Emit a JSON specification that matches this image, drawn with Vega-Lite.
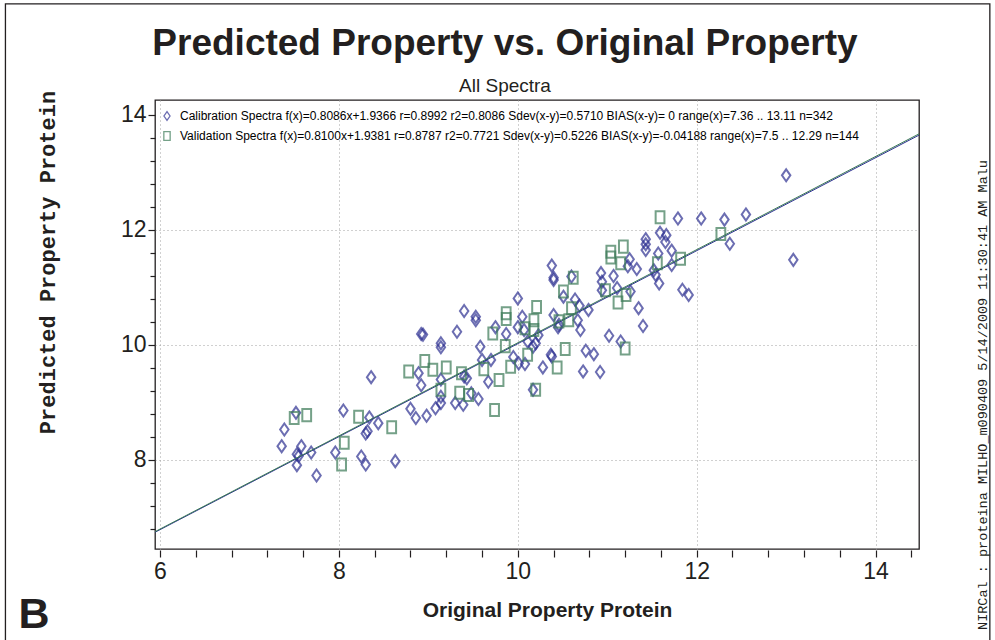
{
  "$schema": "https://vega.github.io/schema/vega-lite/v6.json",
  "width": 764,
  "height": 449,
  "autosize": {"type": "none"},
  "padding": {"left": 155, "top": 100, "right": 76, "bottom": 91},
  "background": "white",
  "title": {
    "text": "Predicted Property vs. Original Property",
    "subtitle": "All Spectra",
    "font": "Liberation Sans, Arial",
    "fontWeight": "bold",
    "fontSize": 37,
    "color": "#231f20",
    "subtitleFont": "Liberation Sans, Arial",
    "subtitleFontSize": 19,
    "subtitleColor": "#231f20",
    "subtitlePadding": 14,
    "offset": 8,
    "dx": -32,
    "dy": 102,
    "frame": "group",
    "anchor": "middle"
  },
  "config": {
    "view": {"stroke": "#231f20", "strokeWidth": 1.3},
    "axis": {
      "domain": false,
      "tickColor": "#231f20",
      "tickWidth": 1.2,
      "labelColor": "#231f20",
      "labelFont": "Liberation Sans, Arial",
      "labelFontSize": 23,
      "labelOverlap": false,
      "labelFlush": false,
      "gridColor": "#a0a0a0",
      "gridDash": [1, 3],
      "gridWidth": 1,
      "titleColor": "#231f20"
    }
  },
  "resolve": {"axis": {"x": "independent", "y": "independent"}},
  "datasets": {
    "points": [
      {"series": "Calibration", "original": 7.52, "predicted": 8.82},
      {"series": "Calibration", "original": 7.39, "predicted": 8.53},
      {"series": "Calibration", "original": 7.36, "predicted": 8.24},
      {"series": "Calibration", "original": 7.58, "predicted": 8.24},
      {"series": "Calibration", "original": 7.53, "predicted": 8.10},
      {"series": "Calibration", "original": 7.55, "predicted": 8.07},
      {"series": "Calibration", "original": 7.69, "predicted": 8.13},
      {"series": "Calibration", "original": 7.53, "predicted": 7.91},
      {"series": "Calibration", "original": 7.75, "predicted": 7.73},
      {"series": "Calibration", "original": 8.05, "predicted": 8.86},
      {"series": "Calibration", "original": 7.96, "predicted": 8.13},
      {"series": "Calibration", "original": 8.36, "predicted": 9.44},
      {"series": "Calibration", "original": 8.34, "predicted": 8.74},
      {"series": "Calibration", "original": 8.44, "predicted": 8.64},
      {"series": "Calibration", "original": 8.30, "predicted": 8.46},
      {"series": "Calibration", "original": 8.32, "predicted": 8.50},
      {"series": "Calibration", "original": 8.25, "predicted": 8.06},
      {"series": "Calibration", "original": 8.30, "predicted": 7.92},
      {"series": "Calibration", "original": 8.63, "predicted": 7.98},
      {"series": "Calibration", "original": 8.80, "predicted": 8.89},
      {"series": "Calibration", "original": 8.86, "predicted": 8.73},
      {"series": "Calibration", "original": 8.89, "predicted": 9.51},
      {"series": "Calibration", "original": 8.92, "predicted": 9.30},
      {"series": "Calibration", "original": 8.92, "predicted": 10.19},
      {"series": "Calibration", "original": 10.38, "predicted": 11.38},
      {"series": "Calibration", "original": 10.40, "predicted": 11.13},
      {"series": "Calibration", "original": 10.40, "predicted": 11.17},
      {"series": "Calibration", "original": 10.00, "predicted": 10.81},
      {"series": "Calibration", "original": 9.40, "predicted": 10.59},
      {"series": "Calibration", "original": 9.53, "predicted": 10.49},
      {"series": "Calibration", "original": 9.53, "predicted": 10.43},
      {"series": "Calibration", "original": 8.94, "predicted": 10.18},
      {"series": "Calibration", "original": 9.32, "predicted": 10.23},
      {"series": "Calibration", "original": 9.14, "predicted": 10.03},
      {"series": "Calibration", "original": 9.14, "predicted": 9.96},
      {"series": "Calibration", "original": 9.58, "predicted": 9.97},
      {"series": "Calibration", "original": 9.75, "predicted": 10.31},
      {"series": "Calibration", "original": 9.87, "predicted": 10.19},
      {"series": "Calibration", "original": 10.05, "predicted": 10.49},
      {"series": "Calibration", "original": 10.00, "predicted": 10.31},
      {"series": "Calibration", "original": 10.07, "predicted": 10.26},
      {"series": "Calibration", "original": 10.11, "predicted": 10.06},
      {"series": "Calibration", "original": 10.17, "predicted": 9.97},
      {"series": "Calibration", "original": 10.20, "predicted": 10.03},
      {"series": "Calibration", "original": 10.23, "predicted": 10.17},
      {"series": "Calibration", "original": 9.95, "predicted": 9.79},
      {"series": "Calibration", "original": 10.01, "predicted": 9.68},
      {"series": "Calibration", "original": 10.08, "predicted": 9.67},
      {"series": "Calibration", "original": 9.60, "predicted": 9.74},
      {"series": "Calibration", "original": 9.70, "predicted": 9.74},
      {"series": "Calibration", "original": 10.37, "predicted": 9.83},
      {"series": "Calibration", "original": 10.38, "predicted": 9.80},
      {"series": "Calibration", "original": 10.28, "predicted": 9.61},
      {"series": "Calibration", "original": 10.40, "predicted": 10.52},
      {"series": "Calibration", "original": 10.45, "predicted": 10.31},
      {"series": "Calibration", "original": 9.14, "predicted": 9.40},
      {"series": "Calibration", "original": 9.14, "predicted": 9.10},
      {"series": "Calibration", "original": 9.14, "predicted": 8.99},
      {"series": "Calibration", "original": 9.40, "predicted": 9.45},
      {"series": "Calibration", "original": 9.43, "predicted": 9.42},
      {"series": "Calibration", "original": 9.67, "predicted": 9.36},
      {"series": "Calibration", "original": 9.48, "predicted": 9.16},
      {"series": "Calibration", "original": 9.56, "predicted": 9.06},
      {"series": "Calibration", "original": 9.30, "predicted": 8.99},
      {"series": "Calibration", "original": 9.39, "predicted": 8.96},
      {"series": "Calibration", "original": 9.08, "predicted": 8.90},
      {"series": "Calibration", "original": 8.98, "predicted": 8.77},
      {"series": "Calibration", "original": 10.17, "predicted": 9.22},
      {"series": "Calibration", "original": 11.79, "predicted": 12.20},
      {"series": "Calibration", "original": 12.05, "predicted": 12.20},
      {"series": "Calibration", "original": 11.59, "predicted": 11.95},
      {"series": "Calibration", "original": 11.66, "predicted": 11.91},
      {"series": "Calibration", "original": 11.65, "predicted": 11.79},
      {"series": "Calibration", "original": 11.43, "predicted": 11.84},
      {"series": "Calibration", "original": 11.43, "predicted": 11.75},
      {"series": "Calibration", "original": 11.43, "predicted": 11.65},
      {"series": "Calibration", "original": 11.72, "predicted": 11.64},
      {"series": "Calibration", "original": 11.57, "predicted": 11.59},
      {"series": "Calibration", "original": 11.25, "predicted": 11.49},
      {"series": "Calibration", "original": 11.23, "predicted": 11.37},
      {"series": "Calibration", "original": 11.33, "predicted": 11.32},
      {"series": "Calibration", "original": 11.72, "predicted": 11.39},
      {"series": "Calibration", "original": 11.52, "predicted": 11.30},
      {"series": "Calibration", "original": 11.54, "predicted": 11.22},
      {"series": "Calibration", "original": 11.58, "predicted": 11.07},
      {"series": "Calibration", "original": 10.60, "predicted": 11.19},
      {"series": "Calibration", "original": 10.93, "predicted": 11.25},
      {"series": "Calibration", "original": 11.07, "predicted": 11.20},
      {"series": "Calibration", "original": 10.94, "predicted": 11.10},
      {"series": "Calibration", "original": 11.11, "predicted": 10.99},
      {"series": "Calibration", "original": 10.94, "predicted": 10.95},
      {"series": "Calibration", "original": 11.26, "predicted": 10.93},
      {"series": "Calibration", "original": 10.51, "predicted": 10.84},
      {"series": "Calibration", "original": 10.64, "predicted": 10.79},
      {"series": "Calibration", "original": 10.69, "predicted": 10.68},
      {"series": "Calibration", "original": 10.79, "predicted": 10.61},
      {"series": "Calibration", "original": 11.35, "predicted": 10.64},
      {"series": "Calibration", "original": 11.84, "predicted": 10.96},
      {"series": "Calibration", "original": 11.91, "predicted": 10.87},
      {"series": "Calibration", "original": 11.40, "predicted": 10.33},
      {"series": "Calibration", "original": 10.67, "predicted": 10.43},
      {"series": "Calibration", "original": 10.70, "predicted": 10.26},
      {"series": "Calibration", "original": 11.02, "predicted": 10.16},
      {"series": "Calibration", "original": 11.15, "predicted": 10.06},
      {"series": "Calibration", "original": 10.76, "predicted": 9.90},
      {"series": "Calibration", "original": 10.85, "predicted": 9.84},
      {"series": "Calibration", "original": 10.73, "predicted": 9.54},
      {"series": "Calibration", "original": 10.92, "predicted": 9.53},
      {"series": "Calibration", "original": 10.46, "predicted": 10.35},
      {"series": "Calibration", "original": 13.00, "predicted": 12.95},
      {"series": "Calibration", "original": 12.31, "predicted": 12.18},
      {"series": "Calibration", "original": 12.55, "predicted": 12.27},
      {"series": "Calibration", "original": 12.37, "predicted": 11.76},
      {"series": "Calibration", "original": 13.08, "predicted": 11.48},
      {"series": "Validation", "original": 7.50, "predicted": 8.73},
      {"series": "Validation", "original": 7.64, "predicted": 8.78},
      {"series": "Validation", "original": 8.06, "predicted": 8.30},
      {"series": "Validation", "original": 8.03, "predicted": 7.92},
      {"series": "Validation", "original": 8.22, "predicted": 8.75},
      {"series": "Validation", "original": 8.59, "predicted": 8.57},
      {"series": "Validation", "original": 8.78, "predicted": 9.54},
      {"series": "Validation", "original": 9.87, "predicted": 10.55},
      {"series": "Validation", "original": 9.87, "predicted": 10.45},
      {"series": "Validation", "original": 10.21, "predicted": 10.66},
      {"series": "Validation", "original": 10.18, "predicted": 10.43},
      {"series": "Validation", "original": 10.18, "predicted": 10.26},
      {"series": "Validation", "original": 10.08, "predicted": 10.29},
      {"series": "Validation", "original": 9.72, "predicted": 10.20},
      {"series": "Validation", "original": 9.86, "predicted": 9.98},
      {"series": "Validation", "original": 10.11, "predicted": 9.83},
      {"series": "Validation", "original": 9.92, "predicted": 9.62},
      {"series": "Validation", "original": 8.96, "predicted": 9.72},
      {"series": "Validation", "original": 9.05, "predicted": 9.57},
      {"series": "Validation", "original": 9.20, "predicted": 9.61},
      {"series": "Validation", "original": 9.37, "predicted": 9.51},
      {"series": "Validation", "original": 9.62, "predicted": 9.58},
      {"series": "Validation", "original": 9.79, "predicted": 9.39},
      {"series": "Validation", "original": 9.14, "predicted": 9.22},
      {"series": "Validation", "original": 9.35, "predicted": 9.17},
      {"series": "Validation", "original": 9.45, "predicted": 9.13},
      {"series": "Validation", "original": 9.74, "predicted": 8.87},
      {"series": "Validation", "original": 10.20, "predicted": 9.22},
      {"series": "Validation", "original": 10.44, "predicted": 9.61},
      {"series": "Validation", "original": 10.51, "predicted": 10.93},
      {"series": "Validation", "original": 11.59, "predicted": 12.22},
      {"series": "Validation", "original": 11.18, "predicted": 11.71},
      {"series": "Validation", "original": 11.04, "predicted": 11.62},
      {"series": "Validation", "original": 11.04, "predicted": 11.52},
      {"series": "Validation", "original": 11.15, "predicted": 11.42},
      {"series": "Validation", "original": 11.56, "predicted": 11.42},
      {"series": "Validation", "original": 11.82, "predicted": 11.50},
      {"series": "Validation", "original": 10.62, "predicted": 11.17},
      {"series": "Validation", "original": 10.98, "predicted": 10.95},
      {"series": "Validation", "original": 11.21, "predicted": 10.87},
      {"series": "Validation", "original": 11.12, "predicted": 10.74},
      {"series": "Validation", "original": 10.60, "predicted": 10.64},
      {"series": "Validation", "original": 10.57, "predicted": 10.43},
      {"series": "Validation", "original": 10.46, "predicted": 10.41},
      {"series": "Validation", "original": 10.53, "predicted": 9.93},
      {"series": "Validation", "original": 11.20, "predicted": 9.94},
      {"series": "Validation", "original": 12.27, "predicted": 11.93}
    ],
    "fits": [
      {"series": "Validation", "original": 5.944, "predicted": 6.753},
      {"series": "Validation", "original": 14.485, "predicted": 13.671},
      {"series": "Calibration", "original": 5.944, "predicted": 6.743},
      {"series": "Calibration", "original": 14.485, "predicted": 13.649}
    ]
  },
  "layer": [
    {
      "data": {"values": [{"item": "frame"}]},
      "mark": {"type": "rect", "fillOpacity": 0, "stroke": "#231f20", "strokeWidth": 1.3, "clip": false},
      "encoding": {
        "x": {
          "datum": 4.272, "type": "quantitative",
          "scale": {"domain": [5.944, 14.485], "nice": false, "zero": false},
          "axis": {
            "orient": "bottom",
            "values": [6.4, 6.8, 7.2, 7.6, 8.4, 8.8, 9.2, 9.6, 10.4, 10.8, 11.2, 11.6, 12.4, 12.8, 13.2, 13.6, 14.4],
            "labels": false,
            "grid": false,
            "tickSize": 7,
            "offset": 1,
            "title": null
          }
        },
        "x2": {"datum": 15.277},
        "y": {
          "datum": 15.93, "type": "quantitative",
          "scale": {"domain": [6.452, 14.26], "nice": false, "zero": false},
          "axis": {
            "orient": "left",
            "values": [6.8, 7.2, 7.6, 8.4, 8.8, 9.2, 9.6, 10.4, 10.8, 11.2, 11.6, 12.4, 12.8, 13.2, 13.6],
            "labels": false,
            "grid": false,
            "tickSize": 5,
            "title": null
          }
        },
        "y2": {"datum": 4.3}
      }
    },
    {
      "data": {"name": "fits"},
      "transform": [{"filter": "datum.series == 'Calibration'"}],
      "mark": {"type": "line", "strokeWidth": 1, "color": "#2e3192", "clip": true},
      "encoding": {
        "x": {"field": "original", "type": "quantitative", "axis": null},
        "y": {"field": "predicted", "type": "quantitative", "axis": null}
      }
    },
    {
      "data": {"name": "points"},
      "mark": {"type": "point", "filled": false, "strokeWidth": 2, "size": 145, "clip": true},
      "encoding": {
        "x": {
          "field": "original", "type": "quantitative",
          "axis": {
            "orient": "bottom",
            "title": "Original Property Protein",
            "titleFont": "Liberation Sans, Arial",
            "titleFontWeight": "bold",
            "titleFontSize": 21,
            "titleX": 392,
            "titleY": 66,
            "titleBaseline": "alphabetic",
            "values": [6, 8, 10, 12, 14],
            "format": "d",
            "tickSize": 7,
            "labelPadding": 3,
            "offset": 1,
            "grid": true
          }
        },
        "y": {
          "field": "predicted", "type": "quantitative",
          "axis": {
            "orient": "left",
            "title": "Predicted Property Protein",
            "titleFont": "Liberation Mono, DejaVu Sans Mono",
            "titleFontWeight": "bold",
            "titleFontSize": 22,
            "titleX": -108,
            "titleY": 162,
            "titleAngle": -90,
            "titleAlign": "center",
            "titleBaseline": "middle",
            "values": [8, 10, 12, 14],
            "format": "d",
            "tickSize": 7,
            "labelPadding": 2,
            "grid": true,
            "gridOpacity": {"condition": {"test": "datum.value < 13", "value": 1}, "value": 0}
          }
        },
        "shape": {
          "field": "series", "type": "nominal",
          "scale": {"domain": ["Calibration", "Validation"], "range": ["M0,-1L0.7,0L0,1L-0.7,0Z", "M-0.73,-1H0.73V1H-0.73Z"]},
          "legend": {
            "orient": "none",
            "legendX": 4,
            "legendY": 8,
            "title": null,
            "padding": 2,
            "rowPadding": 6,
            "strokeColor": "transparent",
            "fillColor": "transparent",
            "symbolSize": 75,
            "symbolStrokeWidth": 1.3,
            "labelFont": "Liberation Sans, Arial",
            "labelFontSize": 12,
            "labelLimit": 850,
            "labelOffset": 7,
            "labelExpr": "datum.value == 'Calibration' ? 'Calibration Spectra f(x)=0.8086x+1.9366  r=0.8992  r2=0.8086  Sdev(x-y)=0.5710  BIAS(x-y)= 0  range(x)=7.36 .. 13.11  n=342' : 'Validation Spectra f(x)=0.8100x+1.9381  r=0.8787  r2=0.7721  Sdev(x-y)=0.5226  BIAS(x-y)=-0.04188  range(x)=7.5 .. 12.29  n=144'",
            "encode": {"labels": {"update": {"fill": {"signal": "datum.value == 'Calibration' ? '#2e3192' : '#3b7a57'"}}}}
          }
        },
        "color": {
          "field": "series", "type": "nominal",
          "scale": {"domain": ["Calibration", "Validation"], "range": ["#2e3192", "#3b7a57"]}
        }
      }
    },
    {
      "data": {"name": "fits"},
      "transform": [{"filter": "datum.series == 'Validation'"}],
      "mark": {"type": "line", "strokeWidth": 1, "color": "#3b7a57", "clip": true},
      "encoding": {
        "x": {"field": "original", "type": "quantitative", "axis": null},
        "y": {"field": "predicted", "type": "quantitative", "axis": null}
      }
    },
    {
      "data": {"values": [{"label": "B"}]},
      "mark": {"type": "text", "font": "Liberation Sans, Arial", "fontWeight": "bold", "fontSize": 43, "align": "left", "baseline": "alphabetic", "color": "#231f20", "clip": false},
      "encoding": {
        "x": {"datum": 4.417, "type": "quantitative", "axis": null},
        "y": {"datum": 5.078, "type": "quantitative", "axis": null},
        "text": {"field": "label"}
      }
    },
    {
      "data": {"values": [{"label": "NIRCal :   proteina MILHO_m090409 5/14/2009 11:30:41 AM Malu"}]},
      "mark": {"type": "text", "font": "Liberation Mono, DejaVu Sans Mono", "fontSize": 13.5, "angle": 270, "align": "center", "baseline": "middle", "color": "#231f20", "clip": false},
      "encoding": {
        "x": {"datum": 15.20, "type": "quantitative", "axis": null},
        "y": {"datum": 9.13, "type": "quantitative", "axis": null},
        "text": {"field": "label"}
      }
    }
  ]
}
